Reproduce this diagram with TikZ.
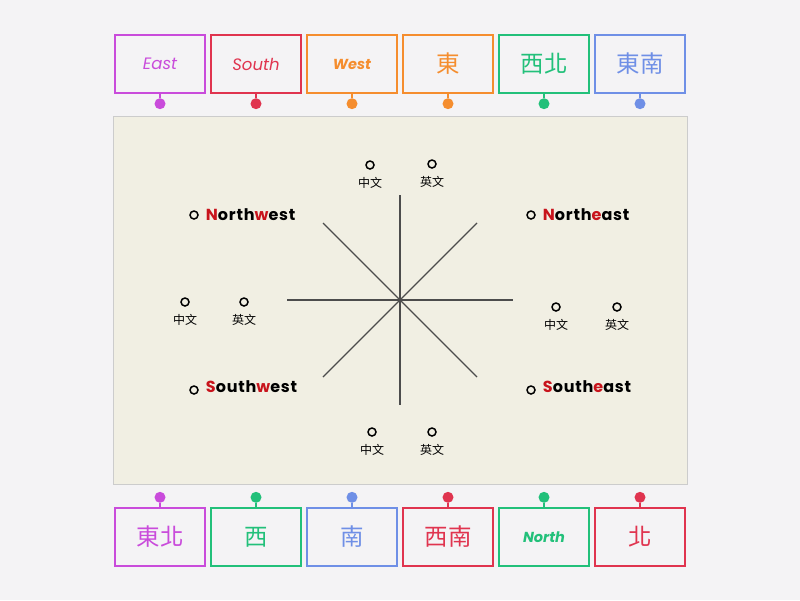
\documentclass[tikz,border=0pt]{standalone}
\usepackage{fontspec}
\newfontfamily\cjk{Noto Sans CJK TC}
\newfontfamily\latin{Poppins}
\newfontfamily\spaced{Poppins}[LetterSpace=5]
\usetikzlibrary{positioning}
\definecolor{cpurple}{HTML}{C94BDB}
\definecolor{cred}{HTML}{E0344F}
\definecolor{corange}{HTML}{F58D2E}
\definecolor{cgreen}{HTML}{22C07A}
\definecolor{cblue}{HTML}{6F8FE6}
\definecolor{hred}{HTML}{C8141C}
\definecolor{paper}{HTML}{F1EFE3}
\definecolor{page}{HTML}{F4F3F5}
\tikzstyle{tile}=[rectangle,line width=1.6pt,fill=page,minimum width=90pt,
minimum height=58pt,inner sep=0pt,outer sep=0pt]
\tikzstyle{pin}=[circle,inner sep=0pt,minimum size=11pt]
\tikzstyle{slot}=[circle,draw=black,line width=1.5pt,inner sep=0pt,minimum size=8pt]
\tikzstyle{spoke}=[draw=black!70,line width=1.3pt]
\newcommand{\en}[1]{{\latin\itshape\fontsize{16.5}{19}\selectfont #1}}
\newcommand{\enb}[1]{{\latin\bfseries\itshape\fontsize{14.5}{17}\selectfont #1}}
\newcommand{\zh}[1]{{\cjk\fontsize{23.5}{27}\selectfont #1}}
\newcommand{\hl}[1]{{\color{hred}#1}}

\begin{document}
\begin{tikzpicture}[x=1pt,y=-1pt,
  small/.style={font=\cjk\fontsize{12}{14}\selectfont,label distance=4pt},
  word/.style={font=\spaced\bfseries\fontsize{16}{19}\selectfont,label distance=7pt,inner sep=0pt}]
            \useasboundingbox[fill=page] (0,0) rectangle (800,600);
            \draw[fill=paper,draw=black!20,line width=1pt] (113,116) rectangle (687,484);

            % TOP TILES

            \node[tile,draw=cpurple,text=cpurple] at (160,64) (t1) {\en{East}};
            \node[tile,draw=cred,text=cred,right=6pt of t1] (t2) {\en{South}};
            \node[tile,draw=corange,text=corange,right=6pt of t2] (t3) {\enb{West}};
            \node[tile,draw=corange,text=corange,right=6pt of t3] (t4) {\zh{東}};
            \node[tile,draw=cgreen,text=cgreen,right=6pt of t4] (t5) {\zh{西北}};
            \node[tile,draw=cblue,text=cblue,right=6pt of t5] (t6) {\zh{東南}};

            \node[pin,fill=cpurple,below=5pt of t1] (p1) {};
            \node[pin,fill=cred,below=5pt of t2] (p2) {};
            \node[pin,fill=corange,below=5pt of t3] (p3) {};
            \node[pin,fill=corange,below=5pt of t4] (p4) {};
            \node[pin,fill=cgreen,below=5pt of t5] (p5) {};
            \node[pin,fill=cblue,below=5pt of t6] (p6) {};

            \draw[cpurple,line width=2.5pt] (t1) -- (p1);
            \draw[cred,line width=2.5pt] (t2) -- (p2);
            \draw[corange,line width=2.5pt] (t3) -- (p3);
            \draw[corange,line width=2.5pt] (t4) -- (p4);
            \draw[cgreen,line width=2.5pt] (t5) -- (p5);
            \draw[cblue,line width=2.5pt] (t6) -- (p6);

            % BOTTOM TILES

            \node[tile,draw=cpurple,text=cpurple] at (160,537) (b1) {\zh{東北}};
            \node[tile,draw=cgreen,text=cgreen,right=6pt of b1] (b2) {\zh{西}};
            \node[tile,draw=cblue,text=cblue,right=6pt of b2] (b3) {\zh{南}};
            \node[tile,draw=cred,text=cred,right=6pt of b3] (b4) {\zh{西南}};
            \node[tile,draw=cgreen,text=cgreen,right=6pt of b4] (b5) {\enb{North}};
            \node[tile,draw=cred,text=cred,right=6pt of b5] (b6) {\zh{北}};

            \node[pin,fill=cpurple,above=5pt of b1] (q1) {};
            \node[pin,fill=cgreen,above=5pt of b2] (q2) {};
            \node[pin,fill=cblue,above=5pt of b3] (q3) {};
            \node[pin,fill=cred,above=5pt of b4] (q4) {};
            \node[pin,fill=cgreen,above=5pt of b5] (q5) {};
            \node[pin,fill=cred,above=5pt of b6] (q6) {};

            \draw[cpurple,line width=2.5pt] (b1) -- (q1);
            \draw[cgreen,line width=2.5pt] (b2) -- (q2);
            \draw[cblue,line width=2.5pt] (b3) -- (q3);
            \draw[cred,line width=2.5pt] (b4) -- (q4);
            \draw[cgreen,line width=2.5pt] (b5) -- (q5);
            \draw[cred,line width=2.5pt] (b6) -- (q6);

            % COMPASS

            \coordinate (cn) at (400,195);
            \coordinate (cs) at (400,405);
            \coordinate (cw) at (287,300);
            \coordinate (ce) at (513,300);
            \coordinate (cnw) at (323,223);
            \coordinate (cse) at (477,377);
            \coordinate (csw) at (323,377);
            \coordinate (cne) at (477,223);

            \draw[spoke] (cn) -- (cs);
            \draw[spoke] (cw) -- (ce);
            \draw[spoke] (cnw) -- (cse);
            \draw[spoke] (csw) -- (cne);

            % SLOTS

            \node[slot,label={[small]below:中文}] at (370,165) (s1) {};
            \node[slot,label={[small]below:英文}] at (432,164) (s2) {};
            \node[slot,label={[small]below:中文}] at (185,302) (s3) {};
            \node[slot,label={[small]below:英文}] at (244,302) (s4) {};
            \node[slot,label={[small]below:中文}] at (556,307) (s5) {};
            \node[slot,label={[small]below:英文}] at (617,307) (s6) {};
            \node[slot,label={[small]below:中文}] at (372,432) (s7) {};
            \node[slot,label={[small]below:英文}] at (432,432) (s8) {};

            \node[slot,label={[word]right:\hl{N}orth\hl{w}est}] at (194,215) (w1) {};
            \node[slot,label={[word]right:\hl{N}orth\hl{e}ast}] at (531,215) (w2) {};
            \node[slot,label={[word,yshift=3pt]right:\hl{S}outh\hl{w}est}] at (194,390) (w3) {};
            \node[slot,label={[word,yshift=3pt]right:\hl{S}outh\hl{e}ast}] at (531,390) (w4) {};

        \end{tikzpicture}
\end{document}
